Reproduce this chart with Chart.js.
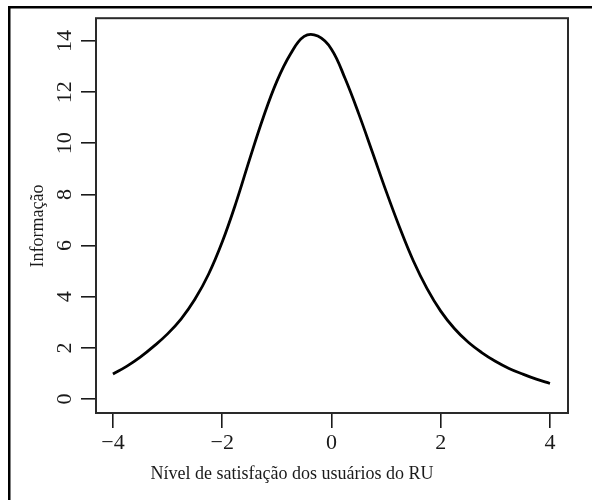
<!DOCTYPE html>
<html>
<head>
<meta charset="utf-8">
<script src="https://cdn.jsdelivr.net/npm/chart.js@4/dist/chart.umd.min.js"></script>
<style>
  html, body { margin: 0; padding: 0; background: #fff; }
  #wrap { width: 592px; height: 500px; position: relative; }
</style>
</head>
<body>
<div id="wrap"><canvas id="c" width="592" height="500"></canvas></div>
<script>
// Data
const xValues = [-4, -3.75, -3.5, -3.25, -3, -2.75, -2.5, -2.25, -2, -1.75, -1.5, -1.25, -1, -0.75, -0.5, -0.25, 0, 0.25, 0.5, 0.75, 1, 1.25, 1.5, 1.75, 2, 2.25, 2.5, 2.75, 3, 3.25, 3.5, 3.75, 4];
const infoValues = [0.98, 1.28, 1.64, 2.07, 2.55, 3.14, 3.90, 4.88, 6.14, 7.66, 9.36, 11.00, 12.42, 13.49, 14.18, 14.19, 13.68, 12.53, 11.15, 9.65, 8.13, 6.70, 5.40, 4.32, 3.44, 2.76, 2.23, 1.82, 1.48, 1.20, 0.98, 0.78, 0.61];
const xTicks = [-4, -2, 0, 2, 4];
const yTicks = [0, 2, 4, 6, 8, 10, 12, 14];
const xTitle = 'Nível de satisfação dos usuários do RU';
const yTitle = 'Informação';

const points = xValues.map((x, i) => ({ x: x, y: infoValues[i] }));
const FONT = 'Liberation Serif';
const INK = '#1a1a1a';

const framePlugin = {
  id: 'frame',
  beforeDraw(chart) {
    const ctx = chart.ctx;
    ctx.save();
    ctx.fillStyle = '#fff';
    ctx.fillRect(0, 0, chart.width, chart.height);
    ctx.fillStyle = '#000';
    ctx.fillRect(8, 6, chart.width - 8, 2.5);
    ctx.fillRect(8, 6, 2.5, chart.height - 6);
    ctx.restore();
  },
  afterDraw(chart) {
    const ctx = chart.ctx;
    const a = chart.chartArea;
    ctx.save();
    ctx.strokeStyle = '#2a2a2a';
    ctx.lineWidth = 2;
    ctx.strokeRect(a.left, a.top, a.right - a.left, a.bottom - a.top);
    // axis titles
    ctx.fillStyle = INK;
    ctx.font = '18px "' + FONT + '"';
    ctx.textAlign = 'center';
    ctx.textBaseline = 'alphabetic';
    ctx.fillText(xTitle, 292, 479);
    ctx.translate(43, 226);
    ctx.rotate(-Math.PI / 2);
    ctx.fillText(yTitle, 0, 0);
    ctx.restore();
  }
};

new Chart(document.getElementById('c'), {
  type: 'line',
  data: {
    datasets: [{
      data: points,
      borderColor: '#000',
      borderWidth: 2.8,
      pointRadius: 0,
      fill: false,
      tension: 0.4
    }]
  },
  options: {
    responsive: false,
    animation: false,
    devicePixelRatio: 1,
    layout: { padding: { left: 0, right: 24, top: 15, bottom: 0 } },
    plugins: { legend: { display: false }, tooltip: { enabled: false } },
    scales: {
      x: {
        type: 'linear',
        min: -4.31,
        max: 4.33,
        afterBuildTicks: (s) => { s.ticks = xTicks.map(v => ({ value: v })); },
        afterFit: (s) => { s.height = 87; },
        border: { display: false },
        grid: { drawOnChartArea: false, drawTicks: true, tickLength: 15, color: INK, lineWidth: 1.6 },
        ticks: {
          font: { family: FONT, size: 22 },
          color: INK,
          padding: 2,
          maxRotation: 0,
          minRotation: 0,
          callback: (v) => (v < 0 ? '\u2212' + Math.abs(v) : String(v))
        }
      },
      y: {
        type: 'linear',
        min: -0.543,
        max: 14.89,
        afterBuildTicks: (s) => { s.ticks = yTicks.map(v => ({ value: v })); },
        afterFit: (s) => { s.width = 96; },
        border: { display: false },
        grid: { drawOnChartArea: false, drawTicks: true, tickLength: 15, color: INK, lineWidth: 1.6 },
        ticks: {
          font: { family: FONT, size: 22 },
          color: INK,
          padding: 5,
          minRotation: 90,
          maxRotation: 90,
          crossAlign: 'center',
          callback: (v) => String(v)
        }
      }
    }
  },
  plugins: [framePlugin]
});
</script>
</body>
</html>
